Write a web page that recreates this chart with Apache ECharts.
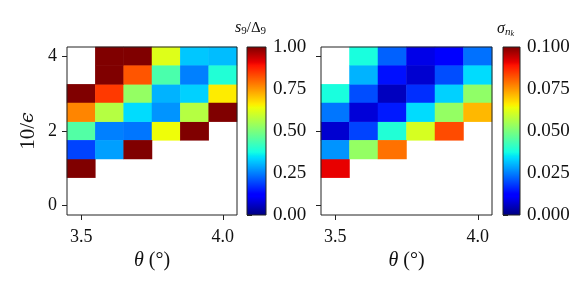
<!DOCTYPE html>
<html><head><meta charset="utf-8">
<script src="https://cdn.jsdelivr.net/npm/echarts@6/dist/echarts.min.js"></script>
<style>html,body{margin:0;padding:0;background:#fff}#c{width:581px;height:291px}</style>
</head><body><div id="c"></div>
<script>
// ---- data ----
const thetaCats = ['3.5','3.6','3.7','3.8','3.9','4.0'];
const epsCats = ['0','0.5','1','1.5','2','2.5','3','3.5','4'];
const xTickLabels = ['3.5','4.0'];
const yTickLabels = ['0','2','4'];
// rows listed from 10/eps = 4.0 (top) down to 1.0; null = empty cell
const sRatioRows = {
  '4':   [null, 1.00, 1.00, 0.62, 0.32, 0.31],
  '3.5': [null, 1.00, 0.82, 0.44, 0.25, 0.39],
  '3':   [1.00, 0.85, 0.53, 0.30, 0.33, 0.66],
  '2.5': [0.77, 0.57, 0.34, 0.27, 0.57, 1.00],
  '2':   [0.45, 0.25, 0.24, 0.64, 1.00, null],
  '1.5': [0.19, 0.28, 1.00, null, null, null],
  '1':   [1.00, null, null, null, null, null]
};
const sigmaRows = {
  '4':   [null, 0.038, 0.022, 0.009, 0.012, 0.0235],
  '3.5': [null, 0.030, 0.014, 0.007, 0.020, 0.034],
  '3':   [0.038, 0.020, 0.0055, 0.017, 0.033, 0.0525],
  '2.5': [0.024, 0.0076, 0.015, 0.034, 0.053, 0.0715],
  '2':   [0.007, 0.019, 0.039, 0.061, 0.083, null],
  '1.5': [0.027, 0.053, 0.079, null, null, null],
  '1':   [0.091, null, null, null, null, null]
};
const sRange = [0, 1, 0.25];
const sigmaRange = [0, 0.1, 0.025];

// ---- jet colormap ----
function pw(pts, v){for(let i=1;i<pts.length;i++){if(v<=pts[i][0]){const a=pts[i-1],b=pts[i];return a[1]+(b[1]-a[1])*(v-a[0])/(b[0]-a[0]);}}return pts[pts.length-1][1];}
function jet(v){
  const r=pw([[0,0],[0.35,0],[0.66,1],[0.89,1],[1,0.5]],v);
  const g=pw([[0,0],[0.125,0],[0.375,1],[0.64,1],[0.91,0],[1,0]],v);
  const b=pw([[0,0.5],[0.11,1],[0.34,1],[0.65,0],[1,0]],v);
  const h=x=>Math.round(Math.max(0,Math.min(1,x))*255).toString(16).padStart(2,'0');
  return '#'+h(r)+h(g)+h(b);
}
const N=256, jetColors=[], jetStops=[];
for(let i=0;i<N;i++){const t=i/(N-1);jetColors.push(jet(t));jetStops.push({offset:t,color:jet(t)});}

function toCells(rows){
  const out=[];
  Object.keys(rows).forEach(k=>{const yi=epsCats.indexOf(k);rows[k].forEach((v,xi)=>{if(v!==null)out.push([xi,yi,v]);});});
  return out;
}

const FONT='Liberation Serif';
const frame='#222';
const chart=echarts.init(document.getElementById('c'),null,{renderer:'canvas'});
const grids=[
  {left:67,top:47,width:170,height:168},
  {left:247,top:47,width:19,height:168},
  {left:321,top:47,width:171,height:168},
  {left:503,top:47,width:17,height:168}
].map(g=>Object.assign(g,{show:true,borderColor:frame,borderWidth:1,backgroundColor:'transparent',z:10,containLabel:false}));

function heatX(gi,showLabel){return {type:'category',gridIndex:gi,data:thetaCats,
  axisLine:{show:false},
  axisTick:{show:true,alignWithLabel:true,length:5,lineStyle:{color:frame},interval:(i,v)=>xTickLabels.includes(v)},
  axisLabel:{show:showLabel,interval:(i,v)=>xTickLabels.includes(v),margin:13,fontFamily:FONT,fontSize:18,color:'#111'},
  splitLine:{show:false},
  name:'{i|θ} (°)',nameLocation:'middle',nameGap:35,
  nameTextStyle:{fontFamily:FONT,fontSize:20,color:'#111',rich:{i:{fontFamily:FONT,fontStyle:'italic',fontSize:20,color:'#111'}}}};}
function heatY(gi,showLabel,withName){const a={type:'category',gridIndex:gi,data:epsCats,
  axisLine:{show:false},
  axisTick:{show:true,alignWithLabel:true,length:5,lineStyle:{color:frame},interval:(i,v)=>yTickLabels.includes(v)},
  axisLabel:{show:showLabel,interval:(i,v)=>yTickLabels.includes(v),margin:10,fontFamily:FONT,fontSize:18,color:'#111'},
  splitLine:{show:false}};
  if(withName){a.name='10/{e|ϵ}';a.nameLocation='middle';a.nameGap=28;a.nameRotate=90;
    a.nameTextStyle={fontFamily:FONT,fontSize:21,color:'#111',rich:{e:{fontFamily:'DejaVu Serif',fontStyle:'italic',fontSize:19,color:'#111'}}};}
  return a;}
function cbX(gi){return {type:'value',gridIndex:gi,min:0,max:1,show:false};}
function cbY(gi,r,dec){return {type:'value',gridIndex:gi,min:r[0],max:r[1],interval:r[2],position:'right',
  axisLine:{show:false},splitLine:{show:false},
  axisTick:{show:true,length:5,lineStyle:{color:frame}},
  axisLabel:{margin:7,fontFamily:FONT,fontSize:19,color:'#111',formatter:v=>v.toFixed(dec)}};}

function cbSeries(gi,r){return {type:'custom',xAxisIndex:gi,yAxisIndex:gi,
  data:[[0,1,r[0],r[1]]],encode:{x:[0,1],y:[2,3]},silent:true,
  renderItem:(params,api)=>{const p0=api.coord([api.value(0),api.value(3)]);const p1=api.coord([api.value(1),api.value(2)]);
    return {type:'rect',shape:{x:p0[0],y:p0[1],width:p1[0]-p0[0],height:p1[1]-p0[1]},
      style:{fill:new echarts.graphic.LinearGradient(0,1,0,0,jetStops)}};}};}

chart.setOption({
  animation:false,
  backgroundColor:'#fff',
  grid:grids,
  xAxis:[heatX(0,true),cbX(1),heatX(2,true),cbX(3)],
  yAxis:[heatY(0,true,true),cbY(1,sRange,2),heatY(2,false,false),cbY(3,sigmaRange,3)],
  visualMap:[
    {type:'continuous',show:false,seriesIndex:0,min:sRange[0],max:sRange[1],inRange:{color:jetColors}},
    {type:'continuous',show:false,seriesIndex:2,min:sigmaRange[0],max:sigmaRange[1],inRange:{color:jetColors}}
  ],
  series:[
    {type:'heatmap',xAxisIndex:0,yAxisIndex:0,data:toCells(sRatioRows),z:2},
    cbSeries(1,sRange),
    {type:'heatmap',xAxisIndex:2,yAxisIndex:2,data:toCells(sigmaRows),z:2},
    cbSeries(3,sigmaRange)
  ],
  graphic:[
    {type:'text',left:235,top:20,style:{text:'{i|s}{s|9}/Δ{s|9}',font:'15px '+FONT,fill:'#111',
      rich:{i:{fontFamily:FONT,fontStyle:'italic',fontSize:16,fill:'#111'},s:{fontFamily:FONT,fontSize:11,verticalAlign:'bottom',padding:[6,0,0,0],fill:'#111'}}}},
    {type:'text',left:497,top:21,style:{text:'{i|σ}{s|n}{ss|k}',font:'16px '+FONT,fill:'#111',
      rich:{i:{fontFamily:FONT,fontStyle:'italic',fontSize:16,fill:'#111'},s:{fontFamily:FONT,fontStyle:'italic',fontSize:11,padding:[6,0,0,0],fill:'#111'},ss:{fontFamily:FONT,fontStyle:'italic',fontSize:8,padding:[10,0,0,0],fill:'#111'}}}}
  ]
});
</script></body></html>
